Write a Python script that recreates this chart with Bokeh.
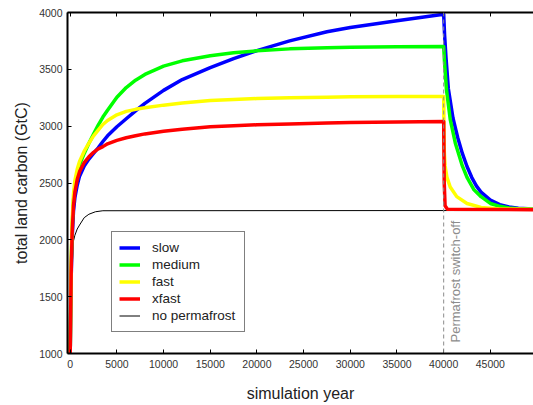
import math
from bokeh.plotting import figure
from bokeh.models import Range1d, LinearAxis, Span, Label, Legend, LegendItem, FixedTicker
from bokeh.embed import file_html
from bokeh.resources import INLINE

# ---------------- data ----------------
switch_year = 40000

growth_years = [0, 100, 200, 350, 500, 750, 1000, 1500, 2000, 2500, 3000, 3500, 4000, 5000,
                6000, 7000, 8000, 10000, 12000, 15000, 17500, 20000, 23500, 27500, 30000,
                35000, 40000]
slow_growth = [1000, 1650, 2000, 2250, 2370, 2480, 2560, 2650, 2710, 2760, 2810, 2865, 2915, 2995,
               3065, 3135, 3200, 3315, 3410, 3515, 3595, 3665, 3750, 3830, 3868, 3928, 3985]
medium_growth = [1000, 1750, 2100, 2350, 2460, 2580, 2660, 2760, 2850, 2930, 3010, 3080, 3140, 3255,
                 3340, 3405, 3455, 3528, 3575, 3620, 3645, 3663, 3680, 3690, 3695, 3698, 3700]
fast_growth = [1000, 1780, 2150, 2400, 2520, 2620, 2690, 2780, 2850, 2915, 2965, 3015, 3050, 3100,
               3130, 3148, 3162, 3185, 3203, 3225, 3235, 3243, 3250, 3255, 3258, 3260, 3260]
xfast_growth = [1000, 1700, 2050, 2300, 2420, 2530, 2600, 2680, 2730, 2770, 2800, 2820, 2845, 2875,
                2898, 2916, 2932, 2955, 2973, 2995, 3003, 3012, 3020, 3028, 3032, 3037, 3040]

slow_decay_years = [40100, 40250, 40500, 41000, 41500, 42000, 42500, 43000, 43500, 44000,
                    45000, 46000, 47000, 48000, 49600]
slow_decay = [3800, 3600, 3330, 3070, 2900, 2760, 2645, 2550, 2475, 2420,
              2350, 2310, 2290, 2278, 2270]
medium_decay_years = [40100, 40300, 40700, 41250, 42000, 42500, 43250, 44000, 45000, 46000,
                      47000, 48000, 49600]
medium_decay = [3550, 3320, 3060, 2850, 2650, 2550, 2440, 2380, 2320, 2295, 2280, 2274, 2270]
fast_decay_years = [40050, 40150, 40350, 40700, 41400, 42500, 44000, 46000, 49600]
fast_decay = [2800, 2650, 2550, 2465, 2380, 2320, 2285, 2272, 2268]
xfast_decay_years = [40060, 40150, 40400, 49600]
xfast_decay = [2500, 2300, 2270, 2265]

nopf_years = [0, 100, 200, 350, 500, 750, 1000, 1500, 2000, 2700, 3500, 49600]
nopf_values = [1000, 1550, 1750, 1990, 2040, 2095, 2130, 2195, 2225, 2247, 2256, 2258]

series_names = ["slow", "medium", "fast", "xfast", "no permafrost"]
series_colors = ["#0000ff", "#00ff00", "#ffff00", "#ff0000", "#000000"]

x_ticks = [0, 5000, 10000, 15000, 20000, 25000, 30000, 35000, 40000, 45000]
x_tick_labels = ["0", "5000", "10000", "15000", "20000", "25000", "30000", "35000", "40000", "45000"]
y_ticks = [1000, 1500, 2000, 2500, 3000, 3500, 4000]
y_tick_labels = ["1000", "1500", "2000", "2500", "3000", "3500", "4000"]

# ---------------- figure ----------------
FONT = "Liberation Sans"
p = figure(width=533, height=404, x_range=Range1d(-290, 49620), y_range=Range1d(1000, 4000),
           output_backend="svg", toolbar_location=None,
           min_border_left=67, min_border_right=0, min_border_top=12, min_border_bottom=40)
p.outline_line_color = None
p.xgrid.visible = False
p.ygrid.visible = False
p.background_fill_color = "white"
p.border_fill_color = "white"


def style_axis(ax, ticks, labels):
    ax.ticker = FixedTicker(ticks=ticks)
    ax.major_label_overrides = {t: l for t, l in zip(ticks, labels)}
    ax.major_tick_in = 4
    ax.major_tick_out = 0
    ax.minor_tick_line_color = None
    ax.axis_line_width = 2
    ax.axis_line_color = "black"
    ax.major_tick_line_color = "black"
    ax.major_tick_line_width = 1
    ax.major_label_text_font = FONT
    ax.major_label_text_font_size = "10.5px"
    ax.major_label_text_color = "#333333"
    ax.axis_label_text_font = FONT
    ax.axis_label_text_font_size = "16px"
    ax.axis_label_text_font_style = "normal"
    ax.axis_label_text_color = "#222222"


style_axis(p.xaxis[0], x_ticks, x_tick_labels)
p.xaxis.axis_label = "simulation year"
p.xaxis.major_label_standoff = 6
p.xaxis.axis_label_standoff = 14

style_axis(p.yaxis[0], y_ticks, y_tick_labels)
p.yaxis.axis_label = "total land carbon (GtC)"
p.yaxis.major_label_standoff = 5
p.yaxis.axis_label_standoff = 6

# top frame edge carries ticks only (no labels)
top = LinearAxis()
style_axis(top, x_ticks, ["" for _ in x_ticks])
top.major_label_standoff = 0
p.add_layout(top, "above")

# ---------------- lines ----------------
r_nopf = p.line(nopf_years, nopf_values, line_color=series_colors[4], line_width=1)
renderers = []
for gy, dy_years, dy_vals, gv, col in [
    (growth_years, slow_decay_years, slow_decay, slow_growth, series_colors[0]),
    (growth_years, medium_decay_years, medium_decay, medium_growth, series_colors[1]),
    (growth_years, fast_decay_years, fast_decay, fast_growth, series_colors[2]),
    (growth_years, xfast_decay_years, xfast_decay, xfast_growth, series_colors[3]),
]:
    r = p.line(gy + dy_years, gv + dy_vals, line_color=col, line_width=3.5,
               line_join="round")
    renderers.append(r)
renderers.append(r_nopf)

span = Span(location=switch_year, dimension="height", line_color="#8c8c8c",
            line_dash="4 3", line_width=1)
p.add_layout(span)

lab = Label(x=switch_year, y=1000, x_offset=4, y_offset=11, angle=math.pi / 2,
            text="Permafrost switch-off", text_color="#8c8c8c", text_font=FONT,
            text_font_size="13px", text_align="left", text_baseline="top")
p.add_layout(lab)

legend = Legend(items=[LegendItem(label=n, renderers=[r]) for n, r in zip(series_names, renderers)],
                location=(44, 21))
legend.margin = 0
legend.padding = 7
legend.spacing = 0
legend.glyph_width = 21
legend.glyph_height = 17
legend.label_height = 17
legend.label_width = 85
legend.label_standoff = 12
legend.label_text_font = FONT
legend.label_text_font_size = "13.5px"
legend.label_text_color = "#222222"
legend.border_line_color = "black"
legend.border_line_width = 1
legend.background_fill_color = "white"
legend.background_fill_alpha = 1.0
p.add_layout(legend)

open("out.html", "w").write(file_html(p, INLINE))
